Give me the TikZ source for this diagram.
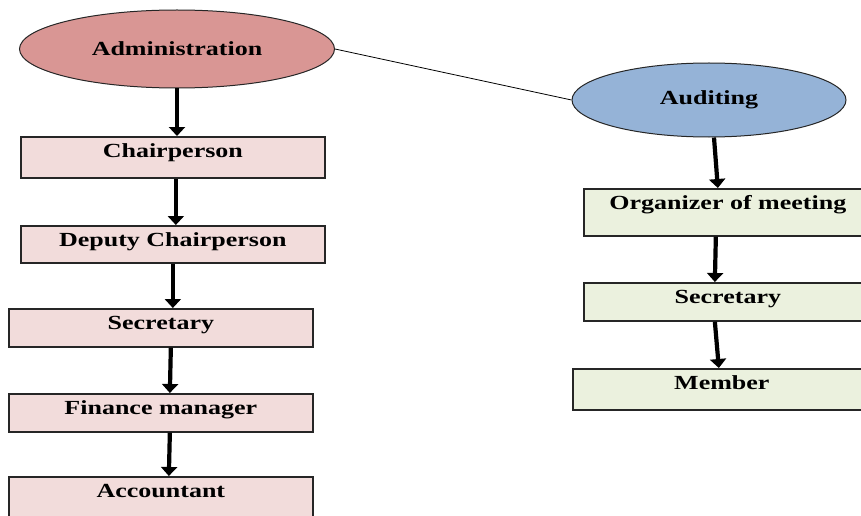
\documentclass[tikz,border=0pt]{standalone}
\usepackage{fontspec}
\usepackage{tikz}
\usetikzlibrary{shapes.geometric,arrows.meta}
\newfontfamily\chartfont[FakeStretch=1.3]{Liberation Serif}
\definecolor{adminRed}{HTML}{D99694}
\definecolor{auditBlue}{HTML}{95B3D7}
\definecolor{adminPink}{HTML}{F2DCDB}
\definecolor{auditGreen}{HTML}{EBF1DE}
\newcommand{\leftWidth}{304pt}
\newcommand{\rightWidth}{288pt}

\begin{document}
\begin{tikzpicture}[x=1pt, y=-1pt,
		every node/.style={font=\fontsize{20}{24}\chartfont\bfseries},
		office/.style={rectangle, draw=black!85, line width=1.7pt, anchor=north west,
			inner xsep=0pt, inner ysep=0pt, text height=21pt},
		unit/.style={ellipse, draw=black!85, line width=1pt, inner sep=0pt},
		flow/.style={line width=4.2pt, -{Triangle[width=16pt,length=9pt]}}]
		\useasboundingbox (0,0) rectangle (861,516);
		\clip (0,0) rectangle (861,516);
		%administration
			\node[unit, fill=adminRed, minimum width=315pt, minimum height=78pt] (admin) at (177,49) {Administration};
			\node[office, fill=adminPink, minimum width=\leftWidth, text depth=20pt] (chair) at (20,136) {Chairperson};
			\node[office, fill=adminPink, minimum width=\leftWidth, text depth=16pt] (deputy) at (20,225) {Deputy Chairperson};
			\node[office, fill=adminPink, minimum width=\leftWidth, text depth=17pt] (secretaryA) at (8,308) {Secretary};
			\node[office, fill=adminPink, minimum width=\leftWidth, text depth=17pt] (finance) at (8,393) {Finance manager};
			\node[office, fill=adminPink, minimum width=\leftWidth, text depth=24pt] (accountant) at (8,476) {Accountant};
		%auditing
			\node[unit, fill=auditBlue, minimum width=274pt, minimum height=74pt] (audit) at (709,100) {Auditing};
			\node[office, fill=auditGreen, minimum width=\rightWidth, text depth=26pt] (organizer) at (583,188) {Organizer of meeting};
			\node[office, fill=auditGreen, minimum width=\rightWidth, text depth=17pt] (secretaryB) at (583,282) {Secretary};
			\node[office, fill=auditGreen, minimum width=298pt, text depth=20pt] (member) at (572,368) {Member};

		\draw[line width=0.8pt] (admin.east) -- (audit.west);

		\draw[flow] (admin.south) -- (admin.south |- chair.north);
		\draw[flow] ([xshift=3pt]chair.south) -- ([xshift=3pt]deputy.north);
		\draw[flow] (deputy.south) -- (deputy.south |- secretaryA.north);
		\draw[flow] ([xshift=10pt]secretaryA.south) -- ([xshift=9pt]finance.north);
		\draw[flow] ([xshift=9pt]finance.south) -- ([xshift=8pt]accountant.north);

		\draw[flow] ([xshift=5pt]audit.south) -- ([xshift=-10pt]organizer.north);
		\draw[flow] ([xshift=-12pt]organizer.south) -- ([xshift=-13pt]secretaryB.north);
		\draw[flow] ([xshift=-13pt]secretaryB.south) -- ([xshift=-3pt]member.north);
	\end{tikzpicture}
\end{document}
